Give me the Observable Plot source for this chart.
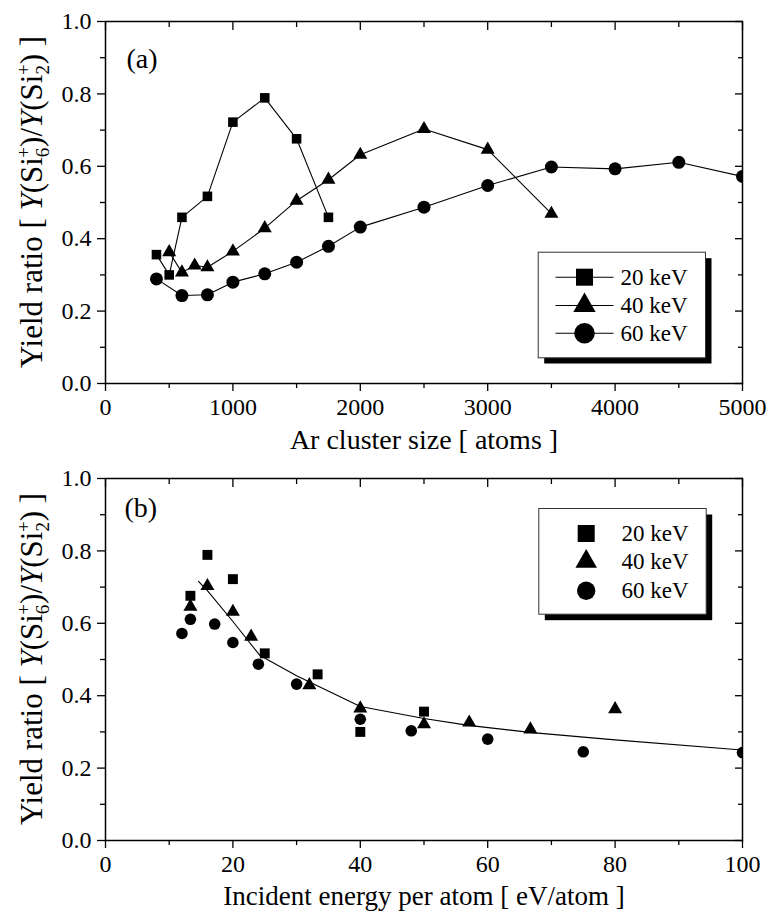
<!DOCTYPE html>
<html><head><meta charset="utf-8">
<script src="https://cdn.jsdelivr.net/npm/d3@7"></script>
<script src="https://cdn.jsdelivr.net/npm/@observablehq/plot@0.6"></script>
<style>html,body{margin:0;padding:0;background:#fff;} #chart svg{display:block;} #chart svg text, #chart svg tspan{font-family:"Liberation Serif",serif !important;}</style>
</head><body><div id="chart"></div>
<script>
// ---------- data ----------
const seriesLabels = ["20 keV", "40 keV", "60 keV"];

// panel (a): yield ratio vs Ar cluster size
const sizeA20  = [400, 500, 600, 800, 1000, 1250, 1500, 1750];
const ratioA20 = [0.356, 0.300, 0.459, 0.517, 0.722, 0.789, 0.676, 0.459];
const sizeA40  = [500, 600, 700, 800, 1000, 1250, 1500, 1750, 2000, 2500, 3000, 3500];
const ratioA40 = [0.363, 0.307, 0.326, 0.321, 0.365, 0.429, 0.505, 0.563, 0.632, 0.703, 0.646, 0.469];
const sizeA60  = [400, 600, 800, 1000, 1250, 1500, 1750, 2000, 2500, 3000, 3500, 4000, 4500, 5000];
const ratioA60 = [0.289, 0.243, 0.245, 0.280, 0.303, 0.335, 0.379, 0.432, 0.487, 0.547, 0.598, 0.593, 0.611, 0.572];

// panel (b): yield ratio vs incident energy per atom
const energyB20 = [13.33, 16, 20, 25, 33.3, 40, 50];
const ratioB20  = [0.676, 0.789, 0.722, 0.517, 0.459, 0.300, 0.356];
const energyB40 = [13.33, 16, 20, 22.86, 32, 40, 50, 57.1, 66.7, 80];
const ratioB40  = [0.646, 0.703, 0.632, 0.563, 0.429, 0.365, 0.321, 0.326, 0.307, 0.363];
const energyB60 = [12, 13.33, 17.14, 20, 24, 30, 40, 48, 60, 75, 100];
const ratioB60  = [0.572, 0.611, 0.598, 0.547, 0.487, 0.432, 0.335, 0.303, 0.280, 0.245, 0.243];
// fitted curve in panel (b)
const fitEnergy = [14.6, 16, 20, 24.2, 30, 40, 50, 57, 67, 80, 100];
const fitRatio  = [0.716, 0.69, 0.605, 0.512, 0.455, 0.37, 0.337, 0.318, 0.298, 0.278, 0.25];

// ticks
const xTicksA = [0, 1000, 2000, 3000, 4000, 5000];
const xMinorA = [500, 1500, 2500, 3500, 4500];
const xTicksB = [0, 20, 40, 60, 80, 100];
const xMinorB = [10, 30, 50, 70, 90];
const yTicks  = [0, 0.2, 0.4, 0.6, 0.8, 1.0];
const yMinor  = [0.1, 0.3, 0.5, 0.7, 0.9];

const xTitleA = "Ar cluster size [ atoms ]";
const xTitleB = "Incident energy per atom [ eV/atom ]";

// ---------- helpers ----------
const toRows = (xs, ys) => xs.map((x, i) => ({x, y: ys[i]}));
const symbols = ["square", "triangle", "circle"];
const FONT = "Liberation Serif";
const lineSymbol = {draw(ctx) { ctx.moveTo(-29, 0); ctx.lineTo(29, 0); }};

function axes(xMajor, xMinor) {
  const t = {label: null, strokeWidth: 1.3, fontFamily: FONT};
  return [
    Plot.axisX({...t, ticks: xMajor, tickSize: 8, tickPadding: 6, tickFormat: d3.format("d"), fontSize: 24}),
    Plot.axisX({...t, ticks: xMinor, tickSize: 5, tickFormat: () => ""}),
    Plot.axisX({...t, anchor: "top", ticks: xMajor, tickSize: 8, dy: 8, tickFormat: () => ""}),
    Plot.axisX({...t, anchor: "top", ticks: xMinor, tickSize: 5, dy: 5, tickFormat: () => ""}),
    Plot.axisY({...t, ticks: yTicks, tickSize: 8, tickPadding: 6, tickFormat: d3.format(".1f"), fontSize: 24}),
    Plot.axisY({...t, ticks: yMinor, tickSize: 5, tickFormat: () => ""}),
    Plot.axisY({...t, anchor: "right", ticks: yTicks, tickSize: 8, dx: -8, tickFormat: () => ""}),
    Plot.axisY({...t, anchor: "right", ticks: yMinor, tickSize: 5, dx: -5, tickFormat: () => ""}),
    Plot.frame({stroke: "black", strokeWidth: 1.5})
  ];
}

function legend(box, shadow, markerDx, textDx, rowsDy, sizes, withLine) {
  const m = [
    Plot.frame({fill: "black", stroke: null, insetLeft: shadow[0], insetTop: shadow[1], insetRight: shadow[2], insetBottom: shadow[3]}),
    Plot.frame({fill: "white", stroke: "#333", strokeWidth: 1, insetLeft: box[0], insetTop: box[1], insetRight: box[2], insetBottom: box[3]})
  ];
  seriesLabels.forEach((lab, i) => {
    if (withLine) m.push(Plot.dot([lab], {frameAnchor: "top-left", dx: markerDx, dy: rowsDy[i], symbol: lineSymbol, r: 1, stroke: "black", strokeWidth: 1.1, fill: "none"}));
    m.push(Plot.dot([lab], {frameAnchor: "top-left", dx: markerDx, dy: rowsDy[i], symbol: symbols[i], r: sizes[i], fill: "black", stroke: null}));
    m.push(Plot.text([lab], {frameAnchor: "top-left", dx: textDx, dy: rowsDy[i], text: d => d, textAnchor: "start", lineAnchor: "middle", fontSize: 23, fontFamily: FONT, fill: "black"}));
  });
  return m;
}

function addYTitle(svg, cy) {
  const t = d3.select(svg).append("text")
    .attr("transform", `translate(42,${cy}) rotate(-90)`)
    .attr("text-anchor", "middle")
    .attr("font-family", FONT)
    .attr("font-size", 31)
    .attr("fill", "black");
  t.append("tspan").text("Yield ratio [ ");
  t.append("tspan").attr("font-style", "italic").text("Y");
  t.append("tspan").text("(Si");
  t.append("tspan").attr("font-size", 19).attr("dy", 7).text("6");
  t.append("tspan").attr("font-size", 19).attr("dx", -10).attr("dy", -19).text("+");
  t.append("tspan").attr("dy", 12).text(")/");
  t.append("tspan").attr("font-style", "italic").text("Y");
  t.append("tspan").text("(Si");
  t.append("tspan").attr("font-size", 19).attr("dy", 7).text("2");
  t.append("tspan").attr("font-size", 19).attr("dx", -10).attr("dy", -19).text("+");
  t.append("tspan").attr("dy", 12).text(") ]");
}

const style = "font-family: 'Liberation Serif', serif; font-size: 24px; color: black; background: white; overflow: visible;";

// ---------- panel (a) ----------
const seriesA = [toRows(sizeA20, ratioA20), toRows(sizeA40, ratioA40), toRows(sizeA60, ratioA60)];
const rA = [5.4, 5.2, 6.5];
const marksA = [];
seriesA.forEach((rows) => marksA.push(Plot.line(rows, {x: "x", y: "y", stroke: "black", strokeWidth: 1.1, clip: true})));
seriesA.forEach((rows, i) => marksA.push(Plot.dot(rows, {x: "x", y: "y", symbol: symbols[i], r: rA[i], fill: "black", stroke: null, clip: true})));
marksA.push(...legend([432.7, 230.7, 37, 25.7], [438.7, 236.7, 31, 20], 479, 515, [255.7, 284, 311.7], [9.6, 8.3, 10.3], true));
marksA.push(Plot.text(["(a)"], {frameAnchor: "top-left", dx: 21, dy: 37.5, text: d => d, textAnchor: "start", lineAnchor: "middle", fontSize: 28, fontFamily: FONT, fill: "black"}));
marksA.push(Plot.text([xTitleA], {frameAnchor: "bottom", dy: 57, text: d => d, lineAnchor: "middle", fontSize: 28, fontFamily: FONT, fill: "black"}));
marksA.push(...axes(xTicksA, xMinorA));

const plotA = Plot.plot({
  width: 771, height: 460, marginLeft: 105, marginRight: 29, marginTop: 21, marginBottom: 77,
  style,
  x: {domain: [0, 5000]},
  y: {domain: [0, 1]},
  marks: marksA
});

// ---------- panel (b) ----------
const seriesB = [toRows(energyB20, ratioB20), toRows(energyB40, ratioB40), toRows(energyB60, ratioB60)];
const rB = [5.6, 5.2, 5.8];
const marksB = [];
marksB.push(Plot.line(toRows(fitEnergy, fitRatio), {x: "x", y: "y", stroke: "black", strokeWidth: 1.1, clip: true}));
seriesB.forEach((rows, i) => marksB.push(Plot.dot(rows, {x: "x", y: "y", symbol: symbols[i], r: rB[i], fill: "black", stroke: null, clip: true})));
marksB.push(...legend([433.3, 30, 36.3, 226.3], [439.3, 36, 30.3, 220.3], 480.7, 516, [55, 83, 112.3], [9.6, 8, 9.2], false));
marksB.push(Plot.text(["(b)"], {frameAnchor: "top-left", dx: 19, dy: 30, text: d => d, textAnchor: "start", lineAnchor: "middle", fontSize: 28, fontFamily: FONT, fill: "black"}));
marksB.push(Plot.text([xTitleB], {frameAnchor: "bottom", dy: 56, text: d => d, lineAnchor: "middle", fontSize: 27, fontFamily: FONT, fill: "black"}));
marksB.push(...axes(xTicksB, xMinorB));

const plotB = Plot.plot({
  width: 771, height: 457, marginLeft: 105, marginRight: 29, marginTop: 18, marginBottom: 77,
  style,
  x: {domain: [0, 100]},
  y: {domain: [0, 1]},
  marks: marksB
});

const chart = document.getElementById("chart");
chart.appendChild(plotA);
chart.appendChild(plotB);
addYTitle(plotA, 202);
addYTitle(plotB, 199);
for (const svg of [plotA, plotB]) {
  svg.setAttribute("font-family", FONT);
  d3.select(svg).selectAll("text, tspan, g").each(function() {
    if (this.tagName === "g" && !this.getAttribute("font-family")) return;
    this.setAttribute("font-family", FONT);
    this.style.setProperty("font-family", "'Liberation Serif', serif", "important");
  });
}
</script>
</body></html>
